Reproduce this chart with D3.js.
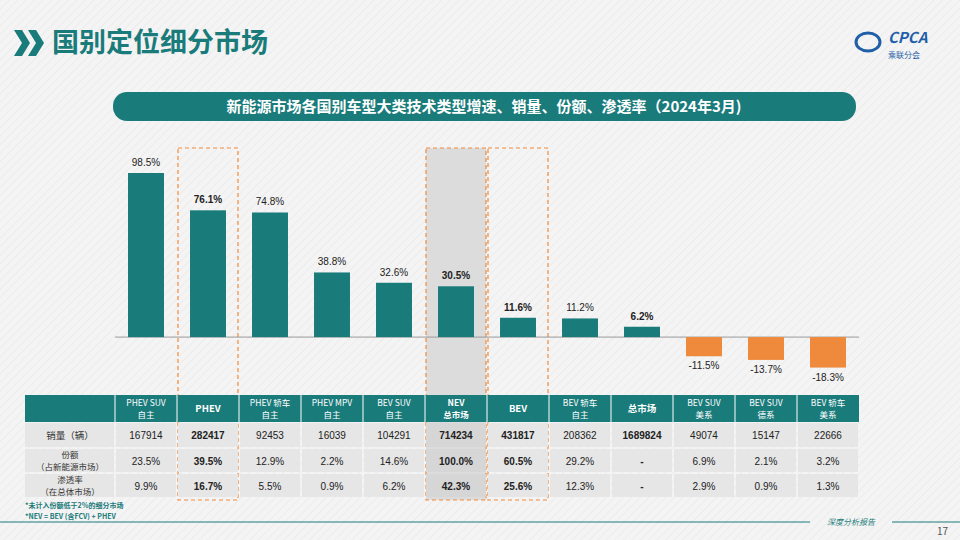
<!DOCTYPE html><html><head><meta charset="utf-8"><script src="https://cdn.jsdelivr.net/npm/d3@7"></script>
<style>body{margin:0;background:#f3f3f3;font-family:"Noto Sans CJK SC","Liberation Sans",sans-serif}</style></head><body>
<svg id="c" width="960" height="540"></svg>
<script>
const categories=["PHEV SUV\n自主","PHEV","PHEV 轿车\n自主","PHEV MPV\n自主","BEV SUV\n自主","NEV\n总市场","BEV","BEV 轿车\n自主","总市场","BEV SUV\n美系","BEV SUV\n德系","BEV 轿车\n美系"];
const growth=[98.5,76.1,74.8,38.8,32.6,30.5,11.6,11.2,6.2,-11.5,-13.7,-18.3];
const bold=[false,true,false,false,false,true,true,false,true,false,false,false];
const sales=["167914","282417","92453","16039","104291","714234","431817","208362","1689824","49074","15147","22666"];
const share=["23.5%","39.5%","12.9%","2.2%","14.6%","100.0%","60.5%","29.2%","-","6.9%","2.1%","3.2%"];
const pen=["9.9%","16.7%","5.5%","0.9%","6.2%","42.3%","25.6%","12.3%","-","2.9%","0.9%","1.3%"];
const rowLabels=[["销量（辆）"],["份额","（占新能源市场）"],["渗透率","（在总体市场）"]];
const svg=d3.select("#c");
const teal="#1a7b7b";
const defs=svg.append("defs");
const p=defs.append("pattern").attr("id","st").attr("width",6).attr("height",6).attr("patternUnits","userSpaceOnUse").attr("patternTransform","rotate(45)");
p.append("rect").attr("width",6).attr("height",6).attr("fill","#f4f4f4");
p.append("rect").attr("width",1).attr("height",6).attr("fill","#ececec");
svg.append("rect").attr("width",960).attr("height",540).attr("fill","url(#st)");
svg.append("path").attr("d","M14,30 L22,30 L30,43 L22,56 L14,56 L22,43Z").attr("fill",teal);
svg.append("path").attr("d","M28,30 L36,30 L44,43 L36,56 L28,56 L36,43Z").attr("fill",teal);
svg.append("text").attr("x",52).attr("y",52).attr("font-size",27).attr("font-weight","bold").attr("fill",teal).text("国别定位细分市场");
svg.append("text").attr("x",888).attr("y",43).attr("font-size",15).attr("font-weight","bold").attr("font-style","italic").attr("fill","#1f5fa8").text("CPCA");
svg.append("text").attr("x",888).attr("y",58).attr("font-size",8).attr("fill","#1f5fa8").text("乘联分会");
svg.append("ellipse").attr("cx",868).attr("cy",42).attr("rx",12).attr("ry",9).attr("fill","none").attr("stroke","#1f5fa8").attr("stroke-width",3);
svg.append("rect").attr("x",113).attr("y",92).attr("width",743).attr("height",29).attr("rx",14).attr("fill",teal);
svg.append("text").attr("x",484).attr("y",112).attr("text-anchor","middle").attr("font-size",15).attr("font-weight","bold").attr("fill","#fff").text("新能源市场各国别车型大类技术类型增速、销量、份额、渗透率（2024年3月)");
const x=d3.scaleBand().domain(d3.range(12)).range([115,859]).paddingInner(0.42).paddingOuter(0.21);
const step=x.step();
const y=d3.scaleLinear().domain([-20,100]).range([370.4,170.5]);
[1,5,6].forEach(i=>{const x0=x(i)+x.bandwidth()/2-step/2+1;
 svg.append("rect").attr("x",x0).attr("y",148).attr("width",step-2).attr("height",352)
 .attr("fill",i==5?"#dcdcdc":"none").attr("stroke","#ef8a3c").attr("stroke-dasharray","4,3").attr("stroke-width",1.2);});
svg.append("line").attr("x1",115).attr("x2",859).attr("y1",y(0)).attr("y2",y(0)).attr("stroke","#999");
svg.selectAll(".b").data(growth).join("rect").attr("x",(d,i)=>x(i)).attr("width",x.bandwidth())
 .attr("y",d=>y(Math.max(0,d))).attr("height",d=>Math.abs(y(d)-y(0))).attr("fill",d=>d<0?"#ef8a3c":teal);
svg.selectAll(".l").data(growth).join("text").attr("x",(d,i)=>x(i)+x.bandwidth()/2)
 .attr("y",d=>d<0?y(d)+13:y(d)-7).attr("text-anchor","middle").attr("font-size",10).attr("font-family","Liberation Sans")
 .attr("font-weight",(d,i)=>bold[i]?"bold":"normal").attr("fill","#222").text(d=>d.toFixed(1)+"%");
const tx0=25, rows=[395,422,448,473,498];
svg.append("rect").attr("x",tx0).attr("y",rows[0]).attr("width",x(11)+x.bandwidth()/2+step/2-tx0).attr("height",rows[1]-rows[0]).attr("fill",teal);
categories.forEach((c,i)=>{const cx=x(i)+x.bandwidth()/2, x0=cx-step/2;
 for(let r=1;r<4;r++) svg.append("rect").attr("x",x0+1).attr("y",rows[r]+1).attr("width",step-2).attr("height",rows[r+1]-rows[r]-2).attr("fill",i==5?"#d6d6d6":"#e6e6e6");
 svg.append("line").attr("x1",x0).attr("x2",x0).attr("y1",rows[0]).attr("y2",rows[1]).attr("stroke","#fff");
 const ls=c.split("\n");
 ls.forEach((t,k)=>svg.append("text").attr("x",cx).attr("y",ls.length==1?rows[0]+17:rows[0]+10.5+k*12.5).attr("text-anchor","middle").attr("font-size",ls.length==1?9.5:8.5).attr("font-weight",bold[i]?"bold":"normal").attr("fill","#fff").text(t));
 [sales,share,pen].forEach((arr,r)=>svg.append("text").attr("x",cx).attr("y",(rows[r+1]+rows[r+2])/2+4).attr("text-anchor","middle").attr("font-size",10).attr("font-family","Liberation Sans").attr("font-weight",bold[i]?"bold":"normal").attr("fill","#222").text(arr[i]));
});
const lx1=x(0)+x.bandwidth()/2-step/2;
rowLabels.forEach((ls,r)=>{svg.append("rect").attr("x",tx0).attr("y",rows[r+1]+1).attr("width",lx1-tx0-1).attr("height",rows[r+2]-rows[r+1]-2).attr("fill","#e6e6e6");
 ls.forEach((t,k)=>svg.append("text").attr("x",(tx0+lx1)/2).attr("y",ls.length==1?(rows[r+1]+rows[r+2])/2+4:rows[r+1]+9.5+k*12.5).attr("text-anchor","middle").attr("font-size",ls.length==1?9.5:8.5).attr("fill","#333").text(t));});
svg.append("text").attr("x",25).attr("y",508).attr("font-size",7).attr("font-weight","bold").attr("fill",teal).text("*未计入份额低于2%的细分市场");
svg.append("text").attr("x",25).attr("y",519).attr("font-size",7).attr("font-weight","bold").attr("fill",teal).text("*NEV = BEV (含FCV) + PHEV");
svg.append("line").attr("x1",0).attr("x2",810).attr("y1",522).attr("y2",522).attr("stroke",teal).attr("stroke-width",1.2);
svg.append("line").attr("x1",892).attr("x2",960).attr("y1",522).attr("y2",522).attr("stroke",teal).attr("stroke-width",1.2);
svg.append("text").attr("x",851).attr("y",525).attr("text-anchor","middle").attr("font-size",8).attr("font-style","italic").attr("fill",teal).text("深度分析报告");
svg.append("text").attr("x",948).attr("y",535).attr("text-anchor","end").attr("font-size",10).attr("fill","#555").text("17");
</script></body></html>
